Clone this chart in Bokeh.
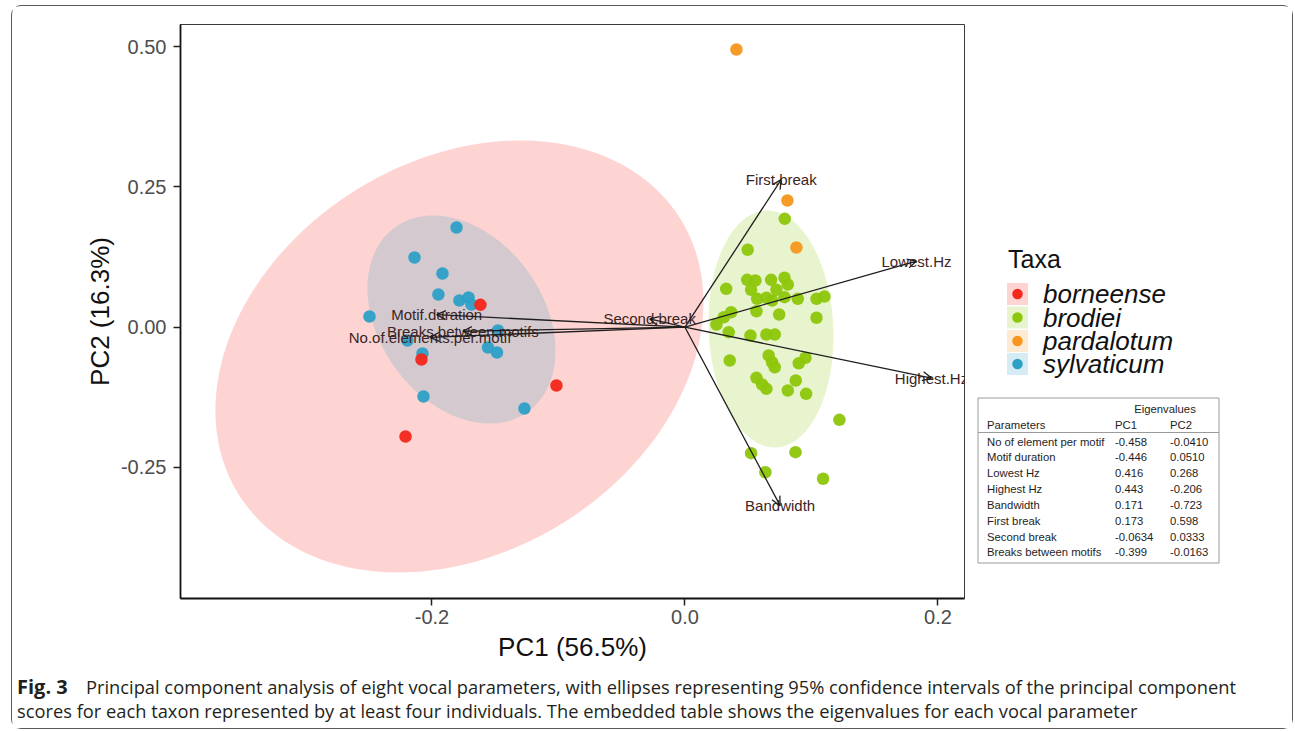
import numpy as np
from bokeh.plotting import figure
from bokeh.layouts import column, row
from bokeh.models import (Range1d, FixedTicker, PrintfTickFormatter,
                          Arrow, OpenHead, ColumnDataSource)
from bokeh.core.properties import value
from bokeh.embed import file_html
from bokeh.resources import INLINE

# ---------------- data ----------------
TAXA = ["borneense", "brodiei", "pardalotum", "sylvaticum"]
TAXA_COLORS = ["#F5261A", "#8DC60A", "#F7961C", "#2DA0C6"]

BORNEENSE_PC1 = [-0.1617, -0.2083, -0.1016, -0.2209]
BORNEENSE_PC2 = [0.0399, -0.0576, -0.1039, -0.1948]

SYLVATICUM_PC1 = [-0.1806, -0.2138, -0.1917, -0.1949, -0.1783, -0.1711, -0.1688,
                  -0.2494, -0.2194, -0.2075, -0.1478, -0.1557, -0.1486, -0.2067, -0.1269]
SYLVATICUM_PC2 = [0.1778, 0.1243, 0.0957, 0.0583, 0.0476, 0.0529, 0.0405,
                  0.0191, -0.0237, -0.0468, -0.0059, -0.0362, -0.0451, -0.1235, -0.1449]

PARDALOTUM_PC1 = [0.0407, 0.0810, 0.0881]
PARDALOTUM_PC2 = [0.4950, 0.2258, 0.1421]

BRODIEI_PC1 = [0.0789, 0.0496, 0.0492, 0.0557, 0.0681, 0.0787, 0.0813, 0.0326, 0.0523,
               0.0723, 0.0571, 0.0644, 0.0689, 0.0787, 0.0892, 0.1040, 0.1103, 0.0565,
               0.0745, 0.1040, 0.0365, 0.0307, 0.0249, 0.0346, 0.0518, 0.0644, 0.0710,
               0.0354, 0.0662, 0.0689, 0.0710, 0.0900, 0.0953, 0.0565, 0.0610, 0.0644,
               0.0876, 0.0813, 0.0958, 0.1221, 0.0523, 0.0874, 0.0636, 0.1092]
BRODIEI_PC2 = [0.1932, 0.1380, 0.0845, 0.0832, 0.0845, 0.0881, 0.0761, 0.0684, 0.0667,
               0.0667, 0.0506, 0.0524, 0.0476, 0.0535, 0.0506, 0.0506, 0.0547, 0.0285,
               0.0226, 0.0168, 0.0267, 0.0178, 0.0048, -0.0089, -0.0148, -0.0130, -0.0130,
               -0.0594, -0.0504, -0.0624, -0.0713, -0.0642, -0.0545, -0.0902, -0.1021, -0.1098,
               -0.0950, -0.1128, -0.1187, -0.1651, -0.2246, -0.2228, -0.2585, -0.2702]

# 95% confidence ellipses (center, half extents along PC1/PC2, correlation)
ELLIPSE_TAXA = ["borneense", "sylvaticum", "brodiei"]
ELLIPSE_CX = [-0.1783, -0.1767, 0.0680]
ELLIPSE_CY = [-0.0522, 0.0137, -0.0032]
ELLIPSE_RX = [0.1929, 0.0743, 0.0494]
ELLIPSE_RY = [0.3850, 0.1854, 0.2112]
ELLIPSE_RHO = [0.25, -0.30, -0.06]

# loadings (eigenvector table)
PARAMETERS = ["No of element per motif", "Motif duration", "Lowest Hz", "Highest Hz",
              "Bandwidth", "First break", "Second break", "Breaks between motifs"]
VAR_NAMES = ["No.of.elements.per.motif", "Motif.duration", "Lowest.Hz", "Highest.Hz",
             "Bandwidth", "First.break", "Second.break", "Breaks.between.motifs"]
LOAD_PC1 = [-0.458, -0.446, 0.416, 0.443, 0.171, 0.173, -0.0634, -0.399]
LOAD_PC2 = [-0.0410, 0.0510, 0.268, -0.206, -0.723, 0.598, 0.0333, -0.0163]
ARROW_SCALE = 0.44

X_TICKS = [-0.2, 0.0, 0.2]
Y_TICKS = [-0.25, 0.0, 0.25, 0.50]
X_LABEL = "PC1 (56.5%)"
Y_LABEL = "PC2 (16.3%)"
LEGEND_TITLE = "Taxa"
TABLE_TITLE = "Eigenvalues"
TABLE_HEADER = ["Parameters", "PC1", "PC2"]
CAPTION_BOLD = "Fig. 3"
CAPTION_LINE1 = ("Principal component analysis of eight vocal parameters, with ellipses "
                 "representing 95% confidence intervals of the principal component")
CAPTION_LINE2 = ("scores for each taxon represented by at least four individuals. "
                 "The embedded table shows the eigenvalues for each vocal parameter")

# ---------------- layout constants (page pixels) ----------------
X0, X1 = -0.3988, 0.2210
Y0, Y1 = -0.4836, 0.5396
OX, OY = 12.5, 6.5            # content origin inside the rounded frame
FW, FH = 784, 574
MBL, MBT, MBR, MBB = 168, 18, 4, 68
MAIN_W = MBL + FW + MBR
MAIN_H = MBT + FH + MBB
SIDE_W = 324
CAP_H = 62
TOTAL_W = MAIN_W + SIDE_W
FRAME_TOP = OY + MBT
FRAME_BOTTOM = FRAME_TOP + FH

FONT = "Liberation Sans"
color_of = dict(zip(TAXA, TAXA_COLORS))

# ---------------- main PCA plot ----------------
p = figure(frame_width=FW, frame_height=FH,
           min_border_left=MBL, min_border_top=MBT,
           min_border_right=MBR, min_border_bottom=MBB,
           x_range=Range1d(X0, X1), y_range=Range1d(Y0, Y1),
           output_backend="svg", toolbar_location=None)
p.grid.visible = False
p.background_fill_color = "white"
p.border_fill_color = "white"
p.outline_line_color = "#3a3a3a"
p.outline_line_width = 1

for axis, ticks, fmt in ((p.xaxis[0], X_TICKS, "%.1f"), (p.yaxis[0], Y_TICKS, "%.2f")):
    axis.ticker = FixedTicker(ticks=ticks)
    axis.formatter = PrintfTickFormatter(format=fmt)
    axis.minor_tick_line_color = None
    axis.major_tick_in = 0
    axis.major_tick_out = 7
    axis.major_tick_line_width = 1.5
    axis.major_tick_line_color = "#222222"
    axis.axis_line_width = 1.8
    axis.axis_line_color = "#111111"
    axis.major_label_text_font = FONT
    axis.major_label_text_font_size = "20px"
    axis.major_label_text_color = "#4d4d4d"
    axis.axis_label_text_font = FONT
    axis.axis_label_text_font_size = "26px"
    axis.axis_label_text_font_style = "normal"
    axis.axis_label_text_color = "#111111"
p.xaxis.axis_label = X_LABEL
p.yaxis.axis_label = Y_LABEL
p.xaxis.major_label_standoff = 4
p.xaxis.axis_label_standoff = 5
p.yaxis.major_label_standoff = 7
p.yaxis.axis_label_standoff = 3

t = np.linspace(0, 2 * np.pi, 240)
for name, cx, cy, rx, ry, rho in zip(ELLIPSE_TAXA, ELLIPSE_CX, ELLIPSE_CY,
                                     ELLIPSE_RX, ELLIPSE_RY, ELLIPSE_RHO):
    ex = cx + rx * np.cos(t)
    ey = cy + ry * (rho * np.cos(t) + np.sqrt(1 - rho ** 2) * np.sin(t))
    p.patch(ex, ey, fill_color=color_of[name], fill_alpha=0.2, line_color=None)

for name, xs, ys in (("sylvaticum", SYLVATICUM_PC1, SYLVATICUM_PC2),
                     ("brodiei", BRODIEI_PC1, BRODIEI_PC2),
                     ("pardalotum", PARDALOTUM_PC1, PARDALOTUM_PC2),
                     ("borneense", BORNEENSE_PC1, BORNEENSE_PC2)):
    p.scatter(xs, ys, size=12.5, fill_color=color_of[name], line_color=None, fill_alpha=0.95)

ax_end = [v * ARROW_SCALE for v in LOAD_PC1]
ay_end = [v * ARROW_SCALE for v in LOAD_PC2]
p.text(x=ax_end, y=ay_end, text=VAR_NAMES, text_align="center", text_baseline="middle",
       text_font=value(FONT), text_font_size="15px", text_color="#3b2424")
asrc = ColumnDataSource(dict(x0=[0.0] * len(ax_end), y0=[0.0] * len(ax_end), x1=ax_end, y1=ay_end))
p.add_layout(Arrow(x_start="x0", y_start="y0", x_end="x1", y_end="y1", source=asrc,
                   line_color="#1e1e1e", line_width=1.3,
                   end=OpenHead(size=9, line_color="#1e1e1e", line_width=1.3)))

# ---------------- side panel: legend + eigenvalue table ----------------
sx0 = OX + MAIN_W
s = figure(frame_width=SIDE_W, frame_height=FH,
           min_border_left=0, min_border_right=0, min_border_top=MBT, min_border_bottom=MBB,
           x_range=Range1d(sx0, sx0 + SIDE_W), y_range=Range1d(FRAME_BOTTOM, FRAME_TOP),
           output_backend="svg", toolbar_location=None)
s.axis.visible = False
s.grid.visible = False
s.outline_line_color = None
s.background_fill_color = "white"
s.border_fill_color = "white"

s.text(x=[1008], y=[259], text=[LEGEND_TITLE], text_font=value(FONT), text_font_size="25px",
       text_color="#111111", text_baseline="middle", text_align="left")
row_top = np.array([283.0, 306.5, 330.0, 353.0])
s.quad(left=1007, right=1028, top=row_top, bottom=row_top + 22,
       fill_color=TAXA_COLORS, fill_alpha=0.2, line_color=None)
s.scatter(x=[1017.5] * 4, y=row_top + 11, size=10.5, fill_color=TAXA_COLORS, line_color=None)
s.text(x=[1043] * 4, y=row_top + 11, text=TAXA, text_font=value(FONT), text_font_size="26px",
       text_font_style="italic", text_color="#111111", text_baseline="middle")

s.quad(left=[978], right=[1219], top=[398], bottom=[563], fill_color="white",
       line_color="#9a9a9a", line_width=1)
s.segment(x0=[978], y0=[432.5], x1=[1219], y1=[432.5], line_color="#9a9a9a", line_width=1)
TFS = "11.3px"
TCOL = "#1e1e1e"
s.text(x=[1165], y=[408.5], text=[TABLE_TITLE], text_font=value(FONT), text_font_size=TFS,
       text_color=TCOL, text_baseline="middle", text_align="center")
s.text(x=[987, 1115, 1170], y=[425] * 3, text=TABLE_HEADER, text_font=value(FONT),
       text_font_size=TFS, text_color=TCOL, text_baseline="middle")
row_y = [441.5 + i * 15.85 for i in range(len(PARAMETERS))]
s.text(x=[987] * len(PARAMETERS), y=row_y, text=PARAMETERS, text_font=value(FONT),
       text_font_size=TFS, text_color=TCOL, text_baseline="middle")
s.text(x=[1115] * len(PARAMETERS), y=row_y, text=[f"{a:#.3g}" for a in LOAD_PC1],
       text_font=value(FONT), text_font_size=TFS, text_color=TCOL, text_baseline="middle")
s.text(x=[1170] * len(PARAMETERS), y=row_y, text=[f"{b:#.3g}" for b in LOAD_PC2],
       text_font=value(FONT), text_font_size=TFS, text_color=TCOL, text_baseline="middle")

# ---------------- caption ----------------
cy0 = OY + MAIN_H
c = figure(width=TOTAL_W, height=CAP_H,
           x_range=Range1d(OX, OX + TOTAL_W), y_range=Range1d(cy0 + CAP_H, cy0),
           min_border=0, output_backend="svg", toolbar_location=None)
c.axis.visible = False
c.grid.visible = False
c.outline_line_color = None
c.background_fill_color = "white"
c.border_fill_color = "white"
c.text(x=[17], y=[686], text=[CAPTION_BOLD], text_font=value("Open Sans"), text_font_size="20px",
       text_font_style="bold", text_color="#231f20", text_baseline="alphabetic")
c.text(x=[86, 17], y=[686, 710], text=[CAPTION_LINE1, CAPTION_LINE2], text_font=value("Open Sans"),
       text_font_size="18.3px", text_color="#231f20", text_baseline="alphabetic")

layout = column(row(p, s), c,
                styles={"border": "1.5px solid #5a5a5a", "border-radius": "10px",
                        "margin-left": "11px", "margin-top": "5px"})

open("out.html", "w").write(file_html(layout, INLINE))
